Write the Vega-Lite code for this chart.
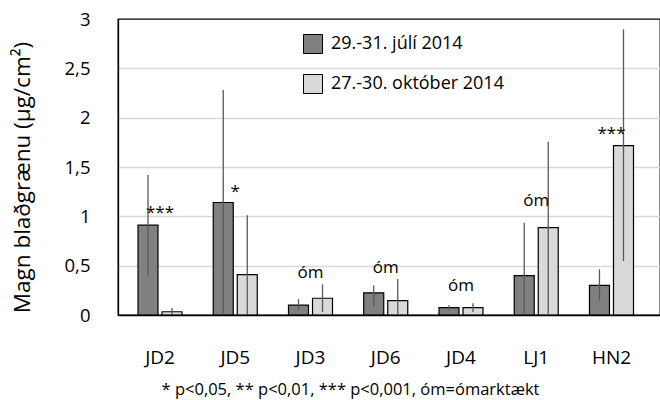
{
  "$schema": "https://vega.github.io/schema/vega-lite/v6.json",
  "width": 542,
  "height": 296,
  "autosize": "none",
  "padding": {"left": 118, "top": 19, "right": 0, "bottom": 85},
  "background": "white",
  "config": {
    "font": "Open Sans",
    "view": {"stroke": "#000", "strokeWidth": 1.3},
    "legend": {
      "orient": "none",
      "legendX": 185,
      "legendY": 15,
      "symbolType": "square",
      "symbolSize": 361,
      "symbolStrokeColor": "#000",
      "symbolStrokeWidth": 1,
      "symbolOpacity": 1,
      "labelFontSize": 18,
      "labelColor": "#000",
      "labelOffset": 8,
      "labelLimit": 0,
      "rowPadding": 16,
      "padding": 0
    }
  },
  "datasets": {
    "bars": [
      {"site": "JD2", "period": "29.-31. júlí 2014", "mean": 0.91, "low": 0.40, "high": 1.42},
      {"site": "JD2", "period": "27.-30. október 2014", "mean": 0.033, "low": 0.0, "high": 0.07},
      {"site": "JD5", "period": "29.-31. júlí 2014", "mean": 1.14, "low": 0.0, "high": 2.28},
      {"site": "JD5", "period": "27.-30. október 2014", "mean": 0.41, "low": 0.0, "high": 1.01},
      {"site": "JD3", "period": "29.-31. júlí 2014", "mean": 0.10, "low": 0.05, "high": 0.16},
      {"site": "JD3", "period": "27.-30. október 2014", "mean": 0.17, "low": 0.03, "high": 0.31},
      {"site": "JD6", "period": "29.-31. júlí 2014", "mean": 0.225, "low": 0.085, "high": 0.30},
      {"site": "JD6", "period": "27.-30. október 2014", "mean": 0.145, "low": 0.0, "high": 0.365},
      {"site": "JD4", "period": "29.-31. júlí 2014", "mean": 0.074, "low": 0.05, "high": 0.10},
      {"site": "JD4", "period": "27.-30. október 2014", "mean": 0.074, "low": 0.03, "high": 0.12},
      {"site": "LJ1", "period": "29.-31. júlí 2014", "mean": 0.40, "low": 0.0, "high": 0.935},
      {"site": "LJ1", "period": "27.-30. október 2014", "mean": 0.885, "low": 0.01, "high": 1.756},
      {"site": "HN2", "period": "29.-31. júlí 2014", "mean": 0.30, "low": 0.145, "high": 0.463},
      {"site": "HN2", "period": "27.-30. október 2014", "mean": 1.716, "low": 0.547, "high": 2.895}
    ],
    "notes": [
      {"site": "JD2", "note": "***", "pos": 1.03},
      {"site": "JD5", "note": "*", "pos": 1.25},
      {"site": "JD3", "note": "óm", "pos": 0.43},
      {"site": "JD6", "note": "óm", "pos": 0.48},
      {"site": "JD4", "note": "óm", "pos": 0.29},
      {"site": "LJ1", "note": "óm", "pos": 1.16},
      {"site": "HN2", "note": "***", "pos": 1.83}
    ]
  },
  "layer": [
    {
      "data": {"name": "bars"},
      "mark": {"type": "bar", "stroke": "#000", "strokeWidth": 1.2, "opacity": 1},
      "encoding": {
        "x": {
          "field": "site",
          "type": "nominal",
          "sort": ["JD2", "JD5", "JD3", "JD6", "JD4", "LJ1", "HN2"],
          "scale": {"paddingInner": 0.415, "paddingOuter": 0.309, "align": 0.43},
          "axis": {
            "labelAngle": 0,
            "labelFontSize": 19,
            "labelColor": "#000",
            "labelPadding": 33,
            "ticks": false,
            "tickSize": 0,
            "domain": true,
            "domainColor": "#000",
            "domainWidth": 1.3,
            "zindex": 1,
            "title": "* p<0,05, ** p<0,01, *** p<0,001,  óm=ómarktækt",
            "titleFontSize": 16.5,
            "titleFontWeight": "normal",
            "titleColor": "#000",
            "titlePadding": 14,
            "titleX": 232
          }
        },
        "xOffset": {
          "field": "period",
          "type": "nominal",
          "sort": ["29.-31. júlí 2014", "27.-30. október 2014"],
          "scale": {"paddingInner": 0.167, "paddingOuter": 0}
        },
        "y": {
          "field": "mean",
          "type": "quantitative",
          "scale": {"domain": [0, 3], "nice": false},
          "axis": {
            "values": [0, 0.5, 1, 1.5, 2, 2.5, 3],
            "labelExpr": "replace(format(datum.value, '~g'), '.', ',')",
            "grid": true,
            "gridColor": {"condition": {"test": "datum.value === 0 || datum.value === 3", "value": "transparent"}, "value": "#d9d9d9"},
            "gridWidth": 1.3,
            "domain": true,
            "domainColor": "#000",
            "domainWidth": 1.3,
            "ticks": false,
            "tickSize": 0,
            "labelFontSize": 18.5,
            "labelColor": "#000",
            "labelPadding": 28,
            "title": "Magn blaðgrænu (µg/cm²)",
            "titleFontSize": 22.5,
            "titleFontWeight": "normal",
            "titleColor": "#000",
            "titlePadding": 30,
            "titleY": 158
          }
        },
        "color": {
          "field": "period",
          "type": "nominal",
          "scale": {"domain": ["29.-31. júlí 2014", "27.-30. október 2014"], "range": ["#808080", "#d9d9d9"]},
          "legend": {"title": null}
        }
      }
    },
    {
      "data": {"name": "bars"},
      "mark": {"type": "rule", "color": "#595959", "strokeWidth": 1.3},
      "encoding": {
        "x": {"field": "site", "type": "nominal", "sort": ["JD2", "JD5", "JD3", "JD6", "JD4", "LJ1", "HN2"]},
        "xOffset": {"field": "period", "type": "nominal", "sort": ["29.-31. júlí 2014", "27.-30. október 2014"]},
        "y": {"field": "low", "type": "quantitative"},
        "y2": {"field": "high"}
      }
    },
    {
      "data": {"name": "notes"},
      "mark": {"type": "text", "fontSize": 17, "color": "#000", "baseline": "middle", "align": "center"},
      "encoding": {
        "x": {"field": "site", "type": "nominal", "sort": ["JD2", "JD5", "JD3", "JD6", "JD4", "LJ1", "HN2"]},
        "y": {"field": "pos", "type": "quantitative"},
        "text": {"field": "note"}
      }
    }
  ]
}
